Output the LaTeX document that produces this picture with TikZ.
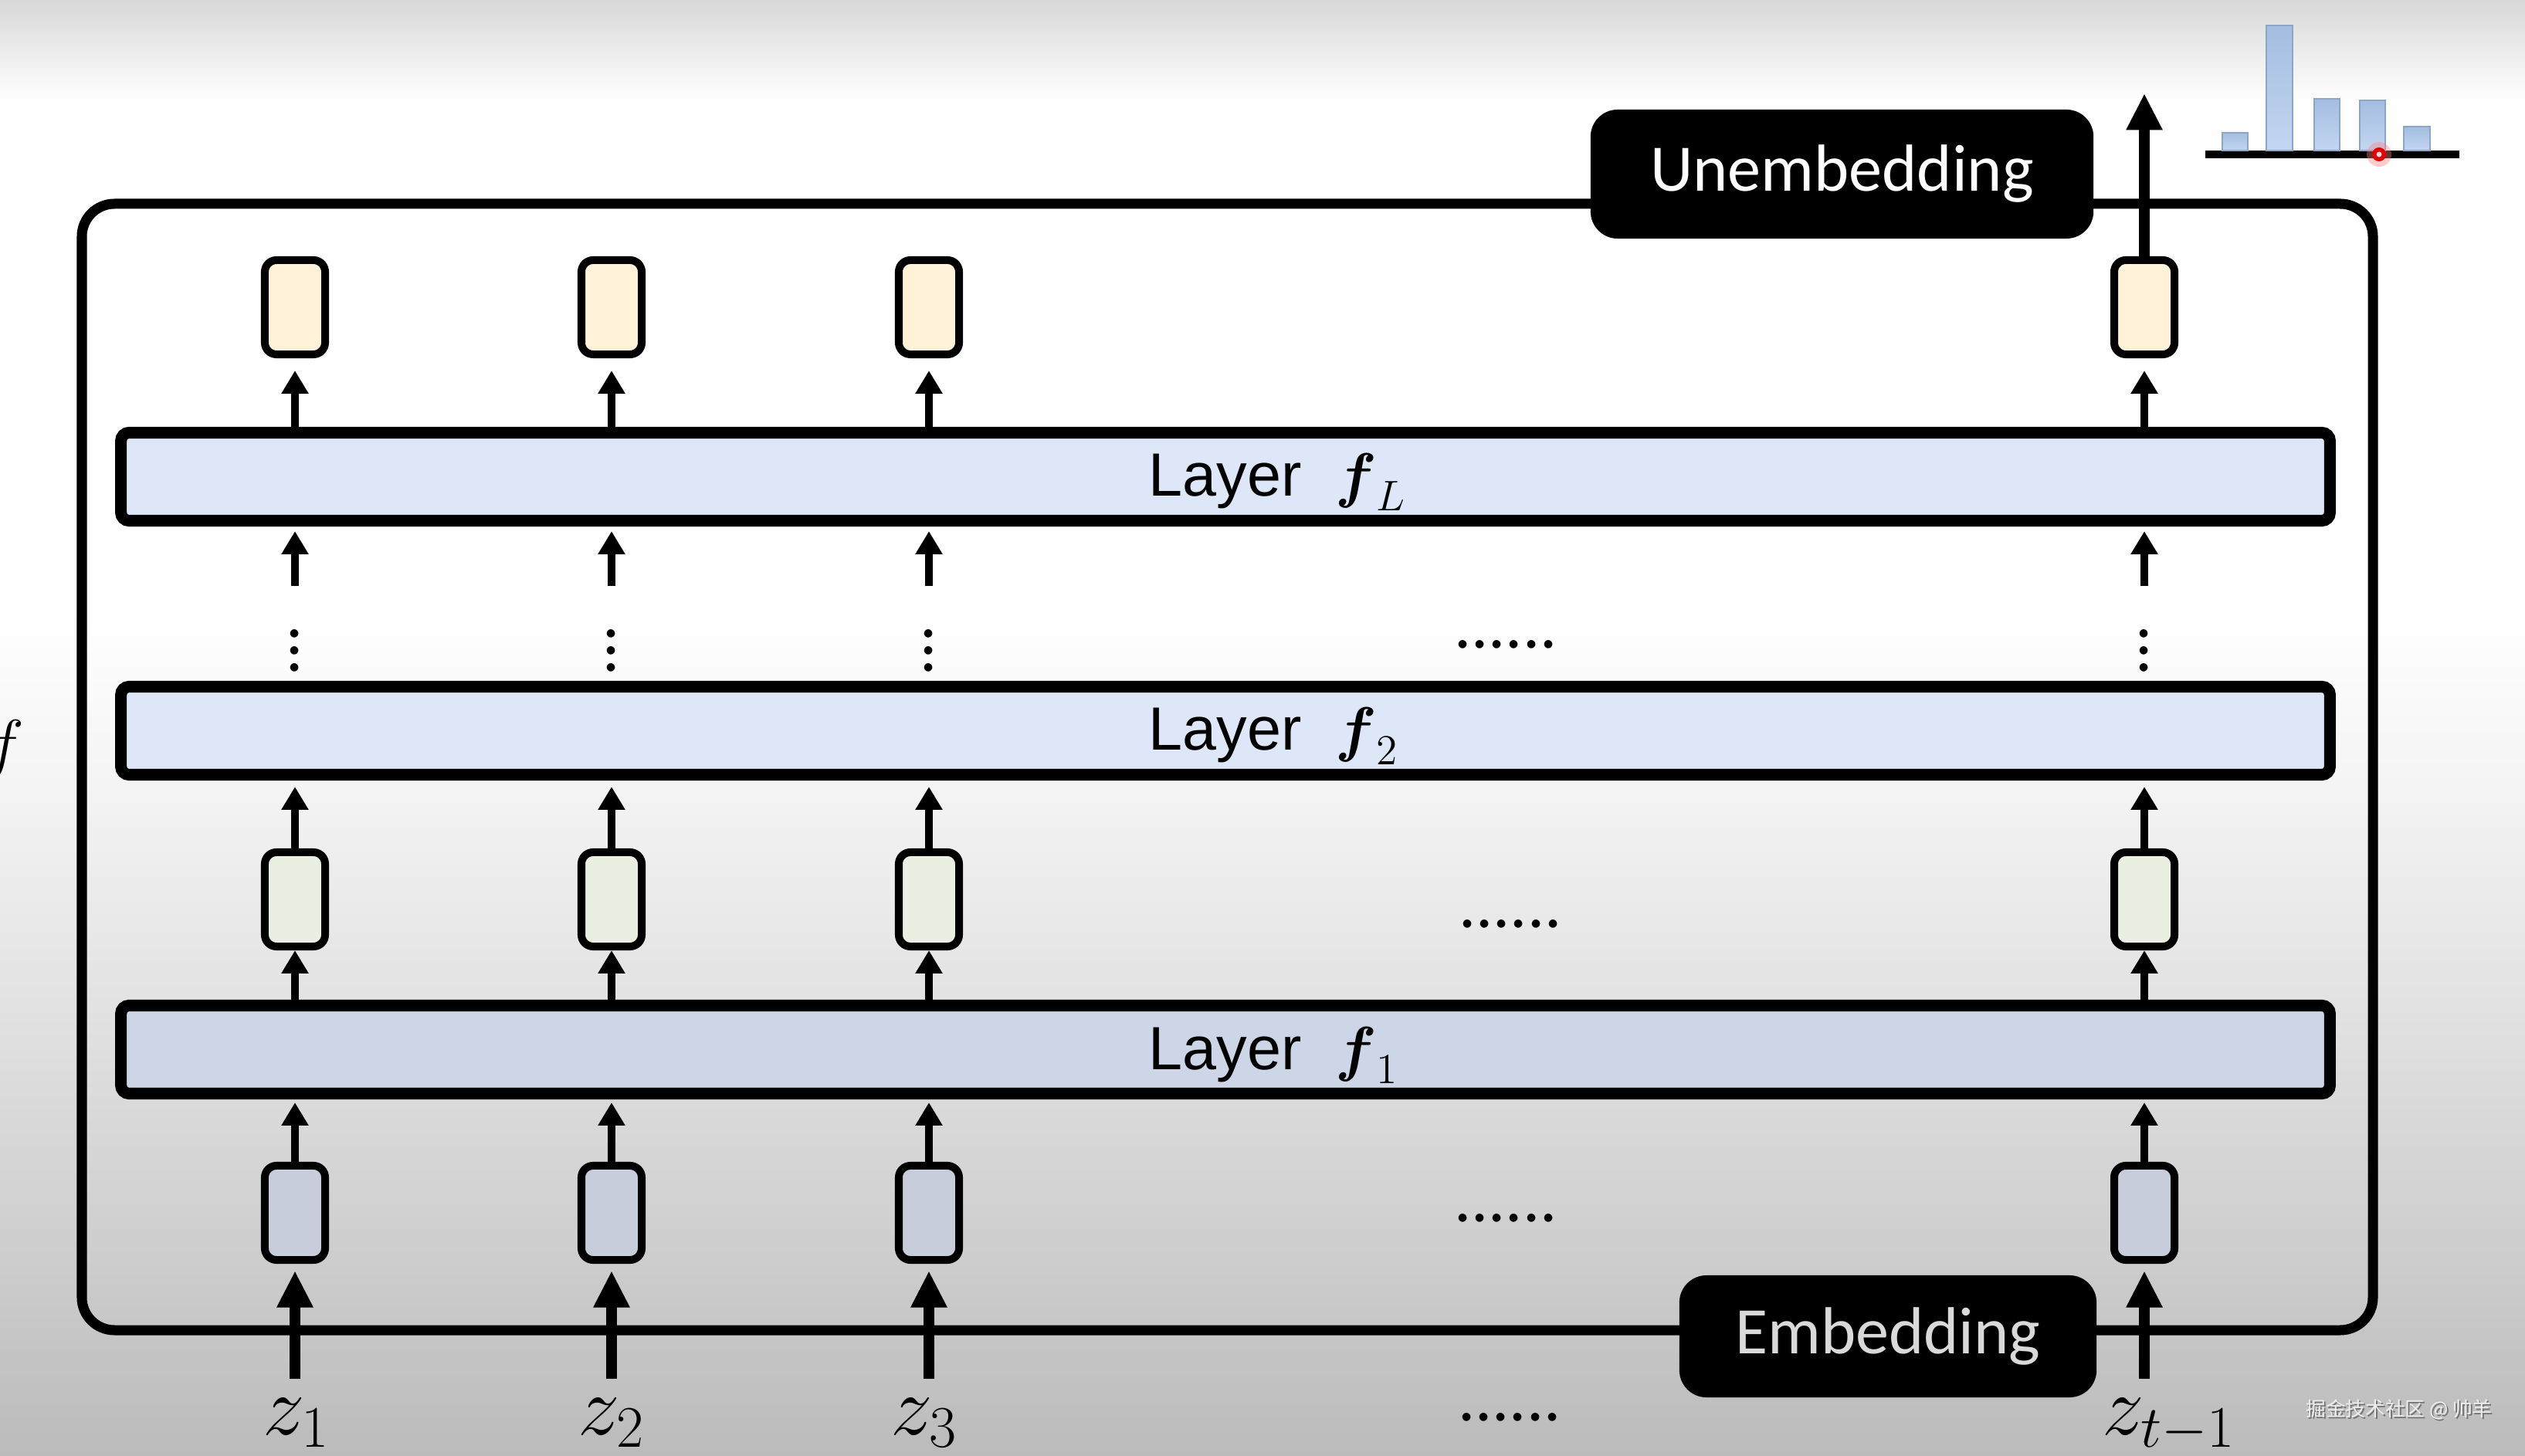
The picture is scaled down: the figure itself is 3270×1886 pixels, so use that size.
\RequirePackage{fix-cm}
\documentclass[tikz,border=0pt]{standalone}
\usepackage{amsmath}
\usepackage{fontspec}
\usetikzlibrary{arrows.meta,positioning,calc}
\newfontfamily\slidefont{Carlito}
\newfontfamily\layerfont{Liberation Sans}
\newfontfamily\wmfont{Noto Sans CJK SC}
\definecolor{bgtop}{HTML}{D8D8D8}
\definecolor{bgmidC}{HTML}{F5F5F5}
\definecolor{bgmidB}{HTML}{E2E2E2}
\definecolor{bgmidA}{HTML}{CFCFCF}
\definecolor{bgbot}{HTML}{BBBBBB}
\definecolor{outC}{HTML}{FFF2D8}
\definecolor{hidC}{HTML}{E9EFE1}
\definecolor{embC}{HTML}{C7CDDB}
\definecolor{layC}{HTML}{DDE7F7}
\definecolor{layoneC}{HTML}{CDD6E6}
\definecolor{barC}{HTML}{8CA5C8}
\definecolor{bartopC}{HTML}{A4BDE0}
\definecolor{barbotC}{HTML}{C3D6F1}
\pgfdeclareverticalshading{slidebg}{100bp}{color(0bp)=(bgbot); color(25bp)=(bgbot); color(32.6bp)=(bgmidA); color(40.5bp)=(bgmidB); color(48.5bp)=(bgmidC); color(54bp)=(white); color(71.5bp)=(white); color(75bp)=(bgtop); color(100bp)=(bgtop)}
\newcommand\colA{382}
\newcommand\colB{792}
\newcommand\colC{1203}
\newcommand\colD{2777}
\newcommand\stackdots{\vbox{\baselineskip=6.26pt\lineskiplimit=-20pt\hbox{.}\hbox{.}\hbox{.}}}

\begin{document}
\begin{tikzpicture}[x=0.01cm,y=-0.01cm,
		tok/.style={rectangle,rounded corners=4.3pt,draw=black,line width=2.85pt,minimum width=0.78cm,minimum height=1.22cm,inner sep=0pt},
		layer/.style={rectangle,rounded corners=3pt,draw=black,line width=4.3pt,minimum width=28.59cm,minimum height=1.14cm,inner sep=0pt},
		laytext/.style={anchor=base west,inner sep=0pt,font=\layerfont\fontsize{22.5}{27}\selectfont},
		blkbox/.style={rectangle,rounded corners=10pt,fill=black,font=\slidefont\fontsize{24.5}{29}\selectfont},
		arr/.style={line width=2.85pt,-{Triangle[length=8.5pt,width=9.5pt]}},
		bigarr/.style={line width=4pt,-{Triangle[length=13.5pt,width=12.5pt]}},
		zlab/.style={anchor=base,inner sep=0pt,font=\fontsize{31}{37}\selectfont},
		rowdots/.style={anchor=base,inner sep=0pt,font=\slidefont\fontsize{25}{30}\selectfont},
		coldots/.style={anchor=base,inner sep=0pt,font=\slidefont\fontsize{25}{30}\selectfont},
		histbar/.style={top color=bartopC,bottom color=barbotC,draw=barC,line width=0.6pt},
		wmark/.style={inner sep=0pt,font=\wmfont\fontsize{7.3}{9}\selectfont}]
		\useasboundingbox (0,0) rectangle (3270,1886);
		\shade[shading=slidebg] (0,0) rectangle (3270,1886);
		\draw[line width=3.7pt,rounded corners=12pt] (106,264) rectangle (3073,1723);
		\node[layer,fill=layC] (lL) at (1587,617.5) {};
		\node[laytext] (lLt) at (1487,643) {Layer\hspace{0.55em}$\boldsymbol{f}_L$};
		\node[layer,fill=layC] (l2) at (1587,946.5) {};
		\node[laytext] (l2t) at (1487,972) {Layer\hspace{0.55em}$\boldsymbol{f}_2$};
		\node[layer,fill=layoneC] (l1) at (1587,1359.5) {};
		\node[laytext] (l1t) at (1487,1385) {Layer\hspace{0.55em}$\boldsymbol{f}_1$};
		\node[tok,fill=outC] (o1) at (\colA,398) {};
		\node[tok,fill=outC] (o2) at (\colB,398) {};
		\node[tok,fill=outC] (o3) at (\colC,398) {};
		\node[tok,fill=outC] (o4) at (\colD,398) {};
		\node[tok,fill=hidC] (h1) at (\colA,1165) {};
		\node[tok,fill=hidC] (h2) at (\colB,1165) {};
		\node[tok,fill=hidC] (h3) at (\colC,1165) {};
		\node[tok,fill=hidC] (h4) at (\colD,1165) {};
		\node[tok,fill=embC] (e1) at (\colA,1571) {};
		\node[tok,fill=embC] (e2) at (\colB,1571) {};
		\node[tok,fill=embC] (e3) at (\colC,1571) {};
		\node[tok,fill=embC] (e4) at (\colD,1571) {};
		\node[coldots] (vd1) at (\colA,870) {\stackdots};
		\node[coldots] (vd2) at (\colB,870) {\stackdots};
		\node[coldots] (vd3) at (\colC,870) {\stackdots};
		\node[coldots] (vd4) at (\colD,870) {\stackdots};
		\node[rowdots] (hd1) at (1950,840) {......};
		\node[rowdots] (hd2) at (1956,1202) {......};
		\node[rowdots] (hd3) at (1950,1582) {......};
		\node[rowdots] (hd4) at (1955,1840) {......};
		\node[zlab] (z1) at (384,1858) {$z_1$};
		\node[zlab] (z2) at (792,1858) {$z_2$};
		\node[zlab] (z3) at (1197,1858) {$z_3$};
		\node[zlab] (z4) at (2809,1858) {$z_{t-1}$};
		\node[blkbox,text=white,minimum width=6.51cm,minimum height=1.67cm] (unemb) at (2385.5,225.5) {Unembedding};
		\node[blkbox,text=black!15,minimum width=5.40cm,minimum height=1.58cm] (emb) at (2445,1731) {Embedding};
		\node[font=\fontsize{24}{29}\selectfont,inner sep=0pt] (fname) at (6,970) {$f$};
		\coordinate (logits) at (\colD,121);
		\path [bigarr,shorten <=0.24cm,shorten >=0.09cm] (e1.south |- z1.north) edge (e1.south);
		\path [bigarr,shorten <=0.24cm,shorten >=0.09cm] (e2.south |- z2.north) edge (e2.south);
		\path [bigarr,shorten <=0.24cm,shorten >=0.09cm] (e3.south |- z3.north) edge (e3.south);
		\path [bigarr,shorten <=0.24cm,shorten >=0.09cm] (e4.south |- z4.north) edge (e4.south);
		\path [arr,shorten >=0.04cm] (e1.north) edge (e1.north |- l1.south);
		\path [arr,shorten >=0.04cm] (e2.north) edge (e2.north |- l1.south);
		\path [arr,shorten >=0.04cm] (e3.north) edge (e3.north |- l1.south);
		\path [arr,shorten >=0.04cm] (e4.north) edge (e4.north |- l1.south);
		\path [arr] (h1.south |- l1.north) edge (h1.south);
		\path [arr] (h2.south |- l1.north) edge (h2.south);
		\path [arr] (h3.south |- l1.north) edge (h3.south);
		\path [arr] (h4.south |- l1.north) edge (h4.south);
		\path [arr,shorten >=0.08cm] (h1.north) edge (h1.north |- l2.south);
		\path [arr,shorten >=0.08cm] (h2.north) edge (h2.north |- l2.south);
		\path [arr,shorten >=0.08cm] (h3.north) edge (h3.north |- l2.south);
		\path [arr,shorten >=0.08cm] (h4.north) edge (h4.north |- l2.south);
		\path [arr,shorten <=0.56cm,shorten >=0.06cm] (vd1.north) edge (vd1.north |- lL.south);
		\path [arr,shorten <=0.56cm,shorten >=0.06cm] (vd2.north) edge (vd2.north |- lL.south);
		\path [arr,shorten <=0.56cm,shorten >=0.06cm] (vd3.north) edge (vd3.north |- lL.south);
		\path [arr,shorten <=0.56cm,shorten >=0.06cm] (vd4.north) edge (vd4.north |- lL.south);
		\path [arr,shorten >=0.16cm] (o1.south |- lL.north) edge (o1.south);
		\path [arr,shorten >=0.16cm] (o2.south |- lL.north) edge (o2.south);
		\path [arr,shorten >=0.16cm] (o3.south |- lL.north) edge (o3.south);
		\path [arr,shorten >=0.16cm] (o4.south |- lL.north) edge (o4.south);
		\path [bigarr] (o4.north) edge (logits);
		\draw[line width=2.85pt] (2856,200) -- (3185,200);
		\shade[histbar] (2878,195) rectangle (2911,172);
		\shade[histbar] (2935,195) rectangle (2969,33);
		\shade[histbar] (2997,195) rectangle (3030,128);
		\shade[histbar] (3056,195) rectangle (3089,130);
		\shade[histbar] (3113,195) rectangle (3147,164);
		\fill[red!50,opacity=0.4] (3081,200) circle (0.16cm);
		\fill[red!90!black] (3081,200) circle (0.09cm);
		\fill[red!15] (3081,200) circle (0.035cm);
		\node[wmark,text=black!55] (wmshadow) at (3109,1828) {掘金技术社区 @ 帅羊};
		\node[wmark,text=black!7] (wmk) at (3107,1826) {掘金技术社区 @ 帅羊};
	\end{tikzpicture}
\end{document}
